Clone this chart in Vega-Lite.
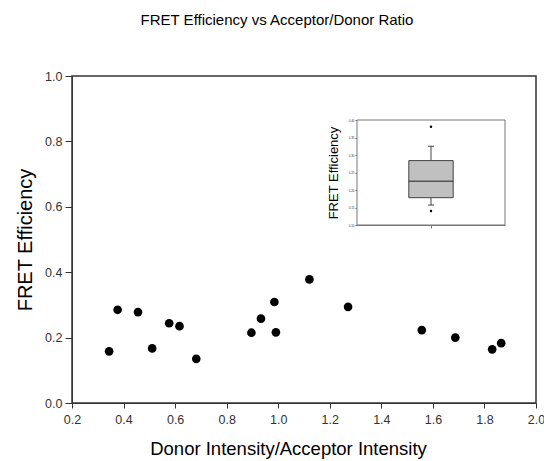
{
  "$schema": "https://vega.github.io/schema/vega-lite/v6.json",
  "width": 464,
  "height": 327,
  "autosize": "none",
  "padding": {"left": 72, "top": 76, "right": 8, "bottom": 58},
  "background": "white",
  "config": {
    "font": "Liberation Sans",
    "view": {"stroke": "#333333", "strokeWidth": 1.5},
    "axis": {"grid": false, "labelFont": "Liberation Sans", "titleFont": "Liberation Sans", "titleFontWeight": "normal", "domainColor": "#333333", "tickColor": "#333333", "labelColor": "#333333", "titleColor": "#000000", "labelFlush": false}
  },
  "title": {"text": "FRET Efficiency vs Acceptor/Donor Ratio", "fontSize": 15, "fontWeight": "normal", "font": "Liberation Sans", "color": "#000000", "anchor": "middle", "dx": -27, "offset": 42},
  "datasets": {
    "points": [
      {"ratio": 0.344, "eff": 0.158},
      {"ratio": 0.377, "eff": 0.285},
      {"ratio": 0.456, "eff": 0.278},
      {"ratio": 0.511, "eff": 0.167},
      {"ratio": 0.577, "eff": 0.244},
      {"ratio": 0.617, "eff": 0.235},
      {"ratio": 0.682, "eff": 0.135},
      {"ratio": 0.896, "eff": 0.215},
      {"ratio": 0.933, "eff": 0.258},
      {"ratio": 0.985, "eff": 0.309},
      {"ratio": 0.991, "eff": 0.216},
      {"ratio": 1.121, "eff": 0.378},
      {"ratio": 1.271, "eff": 0.294},
      {"ratio": 1.557, "eff": 0.223},
      {"ratio": 1.687, "eff": 0.200},
      {"ratio": 1.830, "eff": 0.164},
      {"ratio": 1.865, "eff": 0.183}
    ],
    "box": [
      {"group": "FRET", "lower": 0.157, "q1": 0.178, "median": 0.225, "q3": 0.284, "upper": 0.325}
    ],
    "outliers": [
      {"group": "FRET", "value": 0.381},
      {"group": "FRET", "value": 0.140}
    ]
  },
  "layer": [
    {
      "data": {"name": "points"},
      "mark": {"type": "point", "filled": true, "color": "black", "opacity": 1, "size": 75},
      "encoding": {
        "x": {"field": "ratio", "type": "quantitative", "scale": {"domain": [0.2, 2.0], "nice": false, "zero": false},
              "axis": {"orient": "bottom", "values": [0.2, 0.4, 0.6, 0.8, 1.0, 1.2, 1.4, 1.6, 1.8, 2.0], "format": ".1f", "labelFontSize": 12.5, "tickSize": 5, "labelPadding": 5, "title": "Donor Intensity/Acceptor Intensity", "titleFontSize": 18.5, "titlePadding": 14, "titleX": 216}},
        "y": {"field": "eff", "type": "quantitative", "scale": {"domain": [0, 1], "nice": false},
              "axis": {"orient": "left", "values": [0, 0.2, 0.4, 0.6, 0.8, 1.0], "format": ".1f", "labelFontSize": 12.5, "tickSize": 7, "labelPadding": 3, "title": "FRET Efficiency", "titleFontSize": 20, "titlePadding": 9}}
      }
    },
    {
      "layer": [
        {
          "data": {"name": "box"},
          "mark": {"type": "bar", "fill": "white", "stroke": "#777777", "strokeWidth": 1},
          "encoding": {
            "x": {"field": "group", "type": "nominal", "scale": {"type": "band", "range": [285, 433], "paddingInner": 0, "paddingOuter": 0},
                  "axis": {"orient": "bottom", "offset": -178, "labels": false, "tickSize": 3, "title": null, "domainColor": "#777777", "tickColor": "#777777"}},
            "y": {"datum": 0.1, "type": "quantitative", "scale": {"domain": [0.1, 0.4], "range": [149, 44], "nice": false, "zero": false},
                  "axis": {"orient": "left", "offset": -285, "values": [0.1, 0.15, 0.2, 0.25, 0.3, 0.35, 0.4], "format": ".2f", "labelFontSize": 3, "tickSize": 2, "labelPadding": 1, "domainColor": "#777777", "tickColor": "#777777", "title": "FRET Efficiency", "titleFontSize": 13, "titlePadding": 8, "titleColor": "#000000"}},
            "y2": {"datum": 0.4}
          }
        },
        {
          "data": {"name": "box"},
          "mark": {"type": "rule", "color": "#444444", "strokeWidth": 1},
          "encoding": {
            "x": {"field": "group", "type": "nominal", "bandPosition": 0.5},
            "y": {"field": "lower", "type": "quantitative"},
            "y2": {"field": "q1"}
          }
        },
        {
          "data": {"name": "box"},
          "mark": {"type": "rule", "color": "#444444", "strokeWidth": 1},
          "encoding": {
            "x": {"field": "group", "type": "nominal", "bandPosition": 0.5},
            "y": {"field": "q3", "type": "quantitative"},
            "y2": {"field": "upper"}
          }
        },
        {
          "data": {"name": "box"},
          "mark": {"type": "bar", "width": {"band": 0.3}, "fill": "#c0c0c0", "stroke": "#444444", "strokeWidth": 1},
          "encoding": {
            "x": {"field": "group", "type": "nominal"},
            "y": {"field": "q1", "type": "quantitative"},
            "y2": {"field": "q3"}
          }
        },
        {
          "data": {"name": "box"},
          "mark": {"type": "tick", "size": 45, "thickness": 1.5, "color": "#555555", "opacity": 1},
          "encoding": {
            "x": {"field": "group", "type": "nominal"},
            "y": {"field": "median", "type": "quantitative"}
          }
        },
        {
          "data": {"name": "box"},
          "mark": {"type": "tick", "size": 6, "thickness": 1, "color": "#444444", "opacity": 1},
          "encoding": {
            "x": {"field": "group", "type": "nominal"},
            "y": {"field": "lower", "type": "quantitative"}
          }
        },
        {
          "data": {"name": "box"},
          "mark": {"type": "tick", "size": 6, "thickness": 1, "color": "#444444", "opacity": 1},
          "encoding": {
            "x": {"field": "group", "type": "nominal"},
            "y": {"field": "upper", "type": "quantitative"}
          }
        },
        {
          "data": {"name": "outliers"},
          "mark": {"type": "point", "filled": true, "color": "black", "opacity": 1, "size": 6},
          "encoding": {
            "x": {"field": "group", "type": "nominal"},
            "y": {"field": "value", "type": "quantitative"}
          }
        }
      ]
    }
  ],
  "resolve": {"scale": {"x": "independent", "y": "independent"}, "axis": {"x": "independent", "y": "independent"}}
}
